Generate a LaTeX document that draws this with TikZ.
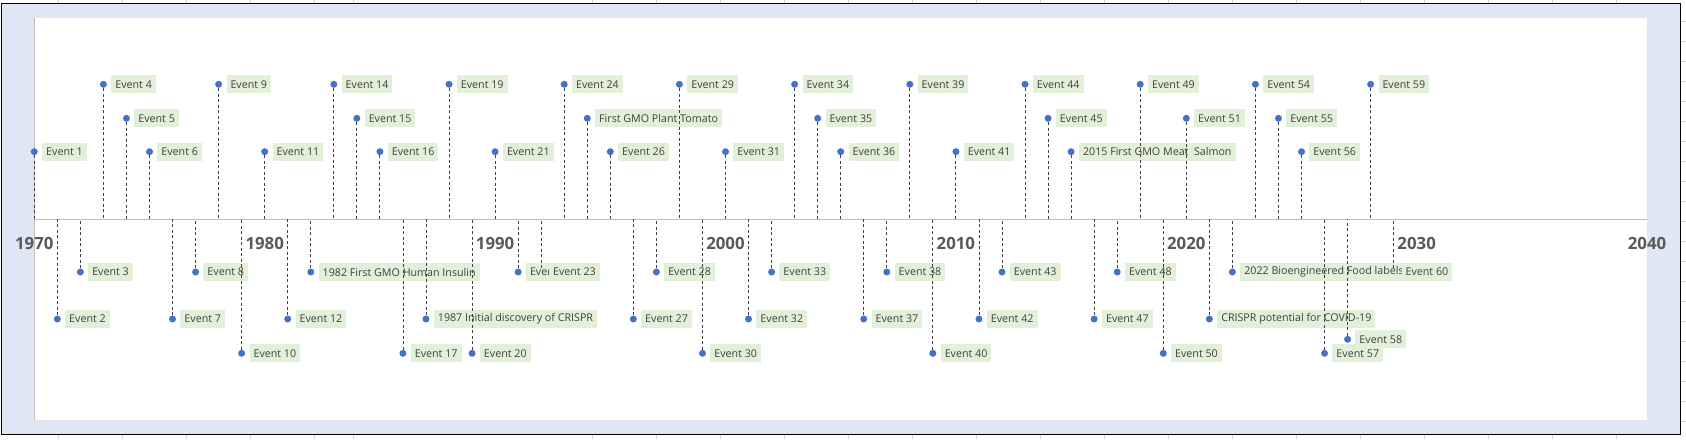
\documentclass[tikz,border=0pt]{standalone}
\usepackage{fontspec}
\setmainfont{Open Sans}
\definecolor{bgblue}{HTML}{DEE7F3}
\definecolor{lblgreen}{HTML}{E2F0D9}
\definecolor{dotblue}{HTML}{4472C4}
\definecolor{yeargray}{HTML}{595959}
\definecolor{lnk}{HTML}{404040}
\definecolor{axisgray}{HTML}{BFBFBF}
\definecolor{cellgray}{HTML}{D4D4D4}
\begin{document}
\begin{tikzpicture}[x=1pt,y=-1pt,
  evdot/.style={circle,fill=dotblue,inner sep=0pt,minimum size=7pt},
  evlabel/.style={fill=lblgreen,inner xsep=4pt,inner ysep=0pt,minimum height=18pt,text=lnk,font=\fontsize{10.7}{12}\selectfont,anchor=west},
  leader/.style={draw=lnk,line width=0.85pt,dash pattern=on 3pt off 2.5pt},
  yearlbl/.style={font=\fontsize{16.8}{18}\selectfont\bfseries,text=yeargray},
  cellline/.style={draw=cellgray,line width=0.7pt}
]
\useasboundingbox (0,0) rectangle (1686,439);
\fill[white] (0,0) rectangle (1686,439);
% spreadsheet cell lines around the chart frame
\foreach \gx in {58.3,122.3,186.3,250.3,314.3,353.3,592.7,656.7,720.7,784.7,848.3,912.3,976.3,1040.3,1104.3,1168.3,1232.3,1296.7,1360.7,1424.7,1488.7,1552.7,1616.7}{
  \draw[cellline] (\gx,0) -- (\gx,3);
  \draw[cellline] (\gx,435) -- (\gx,439);
}
\foreach \gy in {21.7,41.7,...,421.7}{
  \draw[cellline] (1681,\gy) -- (1686,\gy);
}
% chart frame and plot area
\draw[black,line width=1.3pt,fill=bgblue] (1.5,3.5) rectangle (1680.5,434.5);
\fill[white] (34.3,17.7) rectangle (1647,420);
\draw[axisgray,line width=1.2pt] (34.3,17.7) -- (34.3,420);
\coordinate (axL) at (34.3,219.3);
\coordinate (axR) at (1647,219.3);
\draw[axisgray,line width=1.3pt] (axL) -- (axR);
% year labels
\foreach \yr/\i in {1970/0,1980/1,1990/2,2000/3,2010/4,2020/5,2030/6,2040/7}{
  \node[yearlbl] (yr\yr) at ({34.3+\i*230.39},243.3) {\yr};
}
\def\eventlist{1/151.7/Event 1,2/319/Event 2,3/272/Event 3,4/84.3/Event 4,5/118.3/Event 5,6/151.7/Event 6,7/319/Event 7,8/272/Event 8,9/84.3/Event 9,10/353.3/Event 10,11/151.7/Event 11,12/319/Event 12,13/272/1982 First GMO Human Insulin,14/84.3/Event 14,15/118.3/Event 15,16/151.7/Event 16,17/353.3/Event 17,18/319/1987 Initial discovery of CRISPR,19/84.3/Event 19,20/353.3/Event 20,21/151.7/Event 21,22/272/Event 22,23/272/Event 23,24/84.3/Event 24,25/118.3/First GMO Plant Tomato,26/151.7/Event 26,27/319/Event 27,28/272/Event 28,29/84.3/Event 29,30/353.3/Event 30,31/151.7/Event 31,32/319/Event 32,33/272/Event 33,34/84.3/Event 34,35/118.3/Event 35,36/151.7/Event 36,37/319/Event 37,38/272/Event 38,39/84.3/Event 39,40/353.3/Event 40,41/151.7/Event 41,42/319/Event 42,43/272/Event 43,44/84.3/Event 44,45/118.3/Event 45,46/151.7/2015 First GMO Meat~~Salmon,47/319/Event 47,48/272/Event 48,49/84.3/Event 49,50/353.3/Event 50,51/118.3/Event 51,52/319/CRISPR potential for COVID-19,53/272/2022 Bioengineered Food labels,54/84.3/Event 54,55/118.3/Event 55,56/151.7/Event 56,57/353.3/Event 57,58/339.3/Event 58,59/84.3/Event 59,60/272/Event 60}
% dots and axis anchor points
\foreach \n/\ly/\txt in \eventlist{
  \node[evdot] (d\n) at ({34.3+(\n-1)*23.04},\ly) {};
  \coordinate (a\n) at ({34.3+(\n-1)*23.04},219.3);
}
% labels
\foreach \n/\ly/\txt in \eventlist{
  \node[evlabel] (l\n) at ([xshift=4pt]d\n.east) {\txt};
}
% dashed leaders
\foreach \n/\ly/\txt in \eventlist{
  \draw[leader] (d\n) -- (a\n);
}
\end{tikzpicture}
\end{document}
